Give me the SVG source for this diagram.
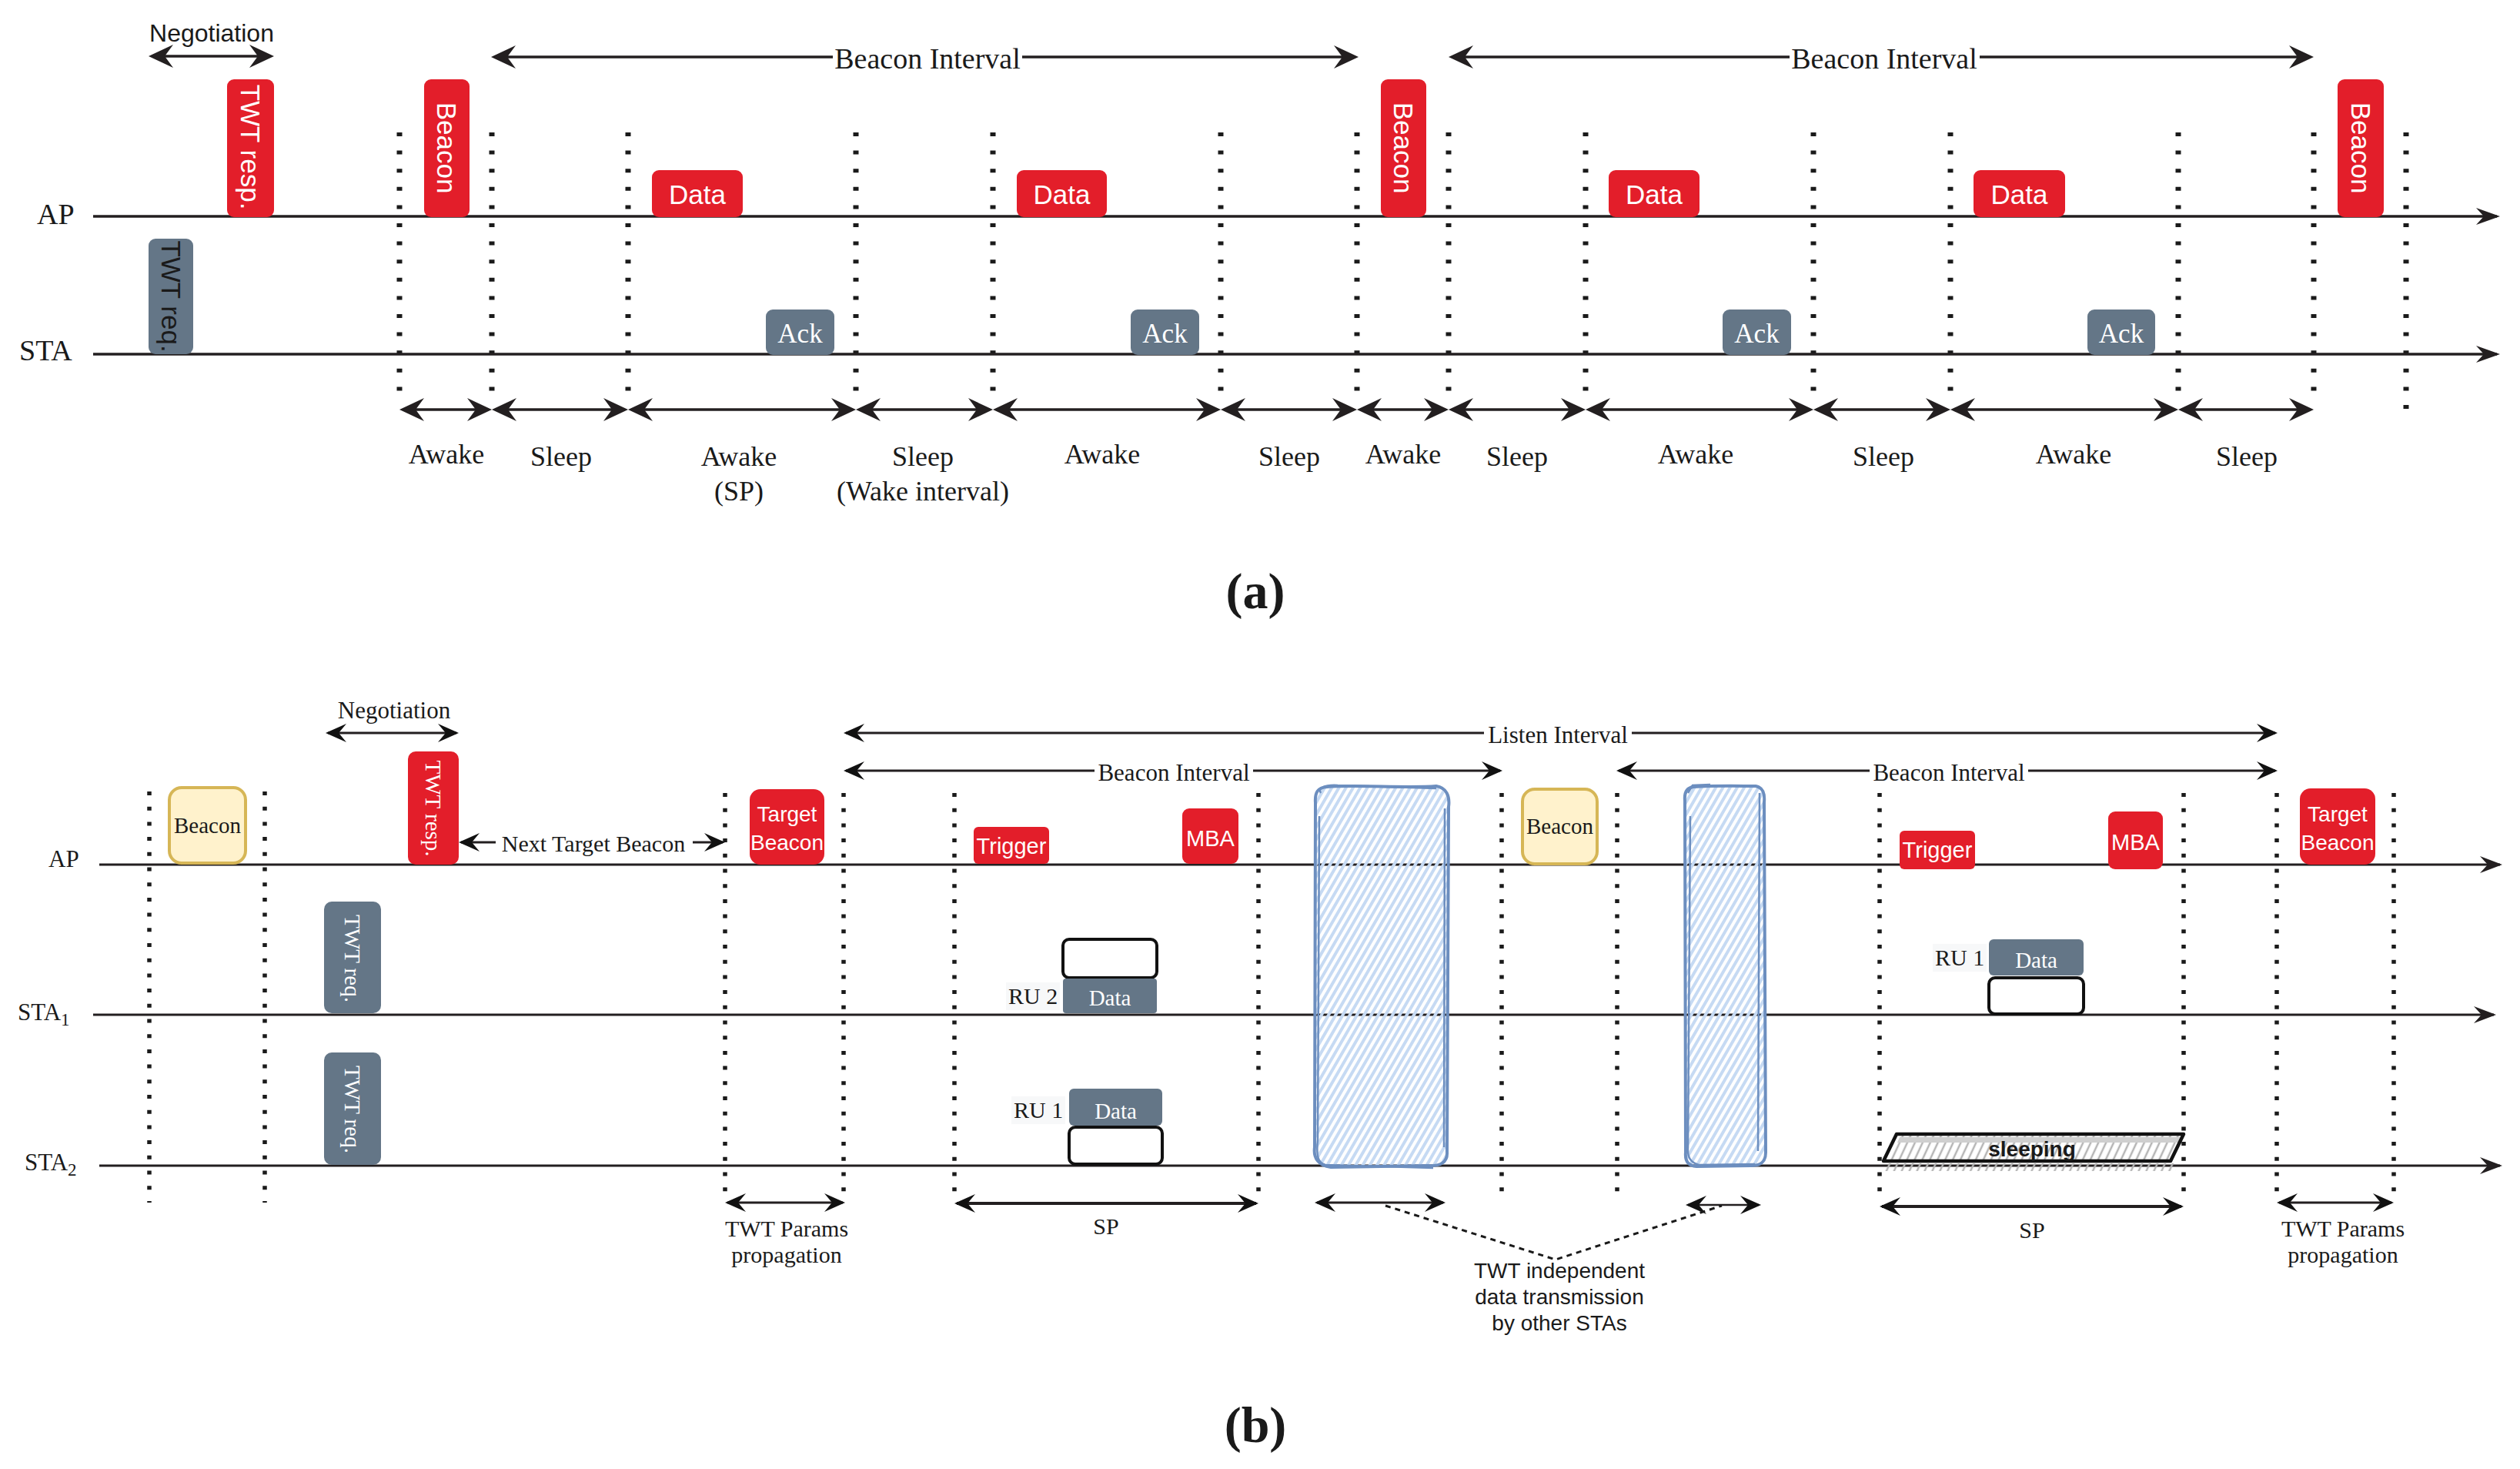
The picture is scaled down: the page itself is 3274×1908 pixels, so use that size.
<svg xmlns="http://www.w3.org/2000/svg" width="3274" height="1908" viewBox="0 0 3274 1908">
<style>
.s{font-family:'Liberation Serif','Times New Roman',serif}
.a{font-family:'Liberation Sans',Arial,sans-serif}
.k{fill:#1a1a1a}
.w{fill:#ffffff}
.red{fill:#e31e2a}
.gray{fill:#647687}
.ylw{fill:#fff2cc;stroke:#d6b656;stroke-width:4}
.blank{fill:#ffffff;stroke:#111;stroke-width:4}
.ln{stroke:#231f20;fill:none}
.dota{stroke:#1a1a1a;stroke-width:7;stroke-dasharray:5 18.6;fill:none}
.dotb{stroke:#1a1a1a;stroke-width:5.5;stroke-dasharray:5 14.7;fill:none}
.mid{text-anchor:middle}
</style>
<defs>
<marker id="ha" viewBox="-34 -17 35 34" refX="-4" refY="0" markerWidth="35" markerHeight="34" markerUnits="userSpaceOnUse" orient="auto-start-reverse" overflow="visible"><path d="M0,0 L-32,-15 L-21,0 L-32,15 Z" fill="#231f20"/></marker>
<marker id="axa" viewBox="-33 -12 34 24" refX="-4" refY="0" markerWidth="34" markerHeight="24" markerUnits="userSpaceOnUse" orient="auto" overflow="visible"><path d="M0,0 L-31,-11 L-21,0 L-31,11 Z" fill="#231f20"/></marker>
<marker id="hb" viewBox="-28 -13 29 26" refX="-3" refY="0" markerWidth="29" markerHeight="26" markerUnits="userSpaceOnUse" orient="auto-start-reverse" overflow="visible"><path d="M0,0 L-27,-12 L-17,0 L-27,12 Z" fill="#111"/></marker>
<marker id="axb" viewBox="-30 -12 31 24" refX="-3" refY="0" markerWidth="31" markerHeight="24" markerUnits="userSpaceOnUse" orient="auto" overflow="visible"><path d="M0,0 L-29,-11 L-19,0 L-29,11 Z" fill="#231f20"/></marker>
<pattern id="hatchBlue" patternUnits="userSpaceOnUse" width="8" height="8" patternTransform="rotate(30)"><line x1="2" y1="0" x2="2" y2="8" stroke="#c6daf3" stroke-width="4"/></pattern>
<pattern id="hatchGray" patternUnits="userSpaceOnUse" width="9" height="9" patternTransform="rotate(25)"><line x1="2" y1="0" x2="2" y2="9" stroke="#b5b5b5" stroke-width="2.5"/></pattern>
</defs>

<!-- ================= (a) ================= -->
<g id="a-grid">
<line class="dota" x1="519" y1="172" x2="519" y2="512"/>
<line class="dota" x1="639" y1="172" x2="639" y2="512"/>
<line class="dota" x1="816" y1="172" x2="816" y2="512"/>
<line class="dota" x1="1112" y1="172" x2="1112" y2="512"/>
<line class="dota" x1="1290" y1="172" x2="1290" y2="512"/>
<line class="dota" x1="1586" y1="172" x2="1586" y2="512"/>
<line class="dota" x1="1763" y1="172" x2="1763" y2="512"/>
<line class="dota" x1="1882" y1="172" x2="1882" y2="512"/>
<line class="dota" x1="2060" y1="172" x2="2060" y2="512"/>
<line class="dota" x1="2356" y1="172" x2="2356" y2="512"/>
<line class="dota" x1="2534" y1="172" x2="2534" y2="512"/>
<line class="dota" x1="2830" y1="172" x2="2830" y2="512"/>
<line class="dota" x1="3006" y1="172" x2="3006" y2="512"/>
<line class="dota" x1="3126" y1="172" x2="3126" y2="535"/>
</g>
<g id="a-axes">
<line class="ln" x1="121" y1="281" x2="3244" y2="281" stroke-width="3.5" marker-end="url(#axa)"/>
<line class="ln" x1="121" y1="460" x2="3244" y2="460" stroke-width="3.5" marker-end="url(#axa)"/>
<text class="s k" x="48" y="291" font-size="38">AP</text>
<text class="s k" x="25" y="468" font-size="38">STA</text>
</g>
<g id="a-twt-resp"><rect class="red" x="295" y="103" width="61" height="179" rx="9"/><text class="a w mid" font-size="35" dominant-baseline="central" transform="translate(325.5,191) rotate(90)">TWT resp.</text></g>
<g id="a-twt-req"><rect class="gray" x="193" y="310" width="58" height="150" rx="9"/><text class="a k mid" font-size="35" dominant-baseline="central" transform="translate(222,385) rotate(90)">TWT req.</text></g>
<g id="a-beacon1"><rect class="red" x="551" y="103" width="59" height="179" rx="9"/><text class="a w mid" font-size="35" dominant-baseline="central" transform="translate(580.5,192) rotate(90)">Beacon</text></g>
<g id="a-beacon2"><rect class="red" x="1794" y="103" width="59" height="179" rx="9"/><text class="a w mid" font-size="35" dominant-baseline="central" transform="translate(1823.5,192) rotate(90)">Beacon</text></g>
<g id="a-beacon3"><rect class="red" x="3037" y="103" width="60" height="179" rx="9"/><text class="a w mid" font-size="35" dominant-baseline="central" transform="translate(3067,192) rotate(90)">Beacon</text></g>
<g id="a-data1"><rect class="red" x="847" y="221" width="118" height="61" rx="9"/><text class="a w mid" x="906" y="265" font-size="35">Data</text></g>
<g id="a-data2"><rect class="red" x="1321" y="221" width="117" height="61" rx="9"/><text class="a w mid" x="1379.5" y="265" font-size="35">Data</text></g>
<g id="a-data3"><rect class="red" x="2090" y="221" width="118" height="61" rx="9"/><text class="a w mid" x="2149" y="265" font-size="35">Data</text></g>
<g id="a-data4"><rect class="red" x="2564" y="221" width="119" height="61" rx="9"/><text class="a w mid" x="2623.5" y="265" font-size="35">Data</text></g>
<g id="a-ack1"><rect class="gray" x="995" y="402" width="89" height="59" rx="9"/><text class="s w mid" x="1039.5" y="445" font-size="35">Ack</text></g>
<g id="a-ack2"><rect class="gray" x="1469" y="402" width="89" height="59" rx="9"/><text class="s w mid" x="1513.5" y="445" font-size="35">Ack</text></g>
<g id="a-ack3"><rect class="gray" x="2238" y="402" width="89" height="59" rx="9"/><text class="s w mid" x="2282.5" y="445" font-size="35">Ack</text></g>
<g id="a-ack4"><rect class="gray" x="2712" y="402" width="88" height="59" rx="9"/><text class="s w mid" x="2756" y="445" font-size="35">Ack</text></g>

<g id="a-connectors">
<line class="ln" x1="197" y1="73" x2="352" y2="73" stroke-width="3.5" marker-start="url(#ha)" marker-end="url(#ha)"/>
<line class="ln" x1="642" y1="74" x2="1761" y2="74" stroke-width="3.5" marker-start="url(#ha)" marker-end="url(#ha)"/>
<line class="ln" x1="1886" y1="74" x2="3002" y2="74" stroke-width="3.5" marker-start="url(#ha)" marker-end="url(#ha)"/>
<line class="ln" x1="523" y1="532" x2="635" y2="532" stroke-width="3.5" marker-start="url(#ha)" marker-end="url(#ha)"/>
<line class="ln" x1="643" y1="532" x2="812" y2="532" stroke-width="3.5" marker-start="url(#ha)" marker-end="url(#ha)"/>
<line class="ln" x1="820" y1="532" x2="1108" y2="532" stroke-width="3.5" marker-start="url(#ha)" marker-end="url(#ha)"/>
<line class="ln" x1="1116" y1="532" x2="1286" y2="532" stroke-width="3.5" marker-start="url(#ha)" marker-end="url(#ha)"/>
<line class="ln" x1="1294" y1="532" x2="1582" y2="532" stroke-width="3.5" marker-start="url(#ha)" marker-end="url(#ha)"/>
<line class="ln" x1="1590" y1="532" x2="1759" y2="532" stroke-width="3.5" marker-start="url(#ha)" marker-end="url(#ha)"/>
<line class="ln" x1="1767" y1="532" x2="1878" y2="532" stroke-width="3.5" marker-start="url(#ha)" marker-end="url(#ha)"/>
<line class="ln" x1="1886" y1="532" x2="2056" y2="532" stroke-width="3.5" marker-start="url(#ha)" marker-end="url(#ha)"/>
<line class="ln" x1="2064" y1="532" x2="2352" y2="532" stroke-width="3.5" marker-start="url(#ha)" marker-end="url(#ha)"/>
<line class="ln" x1="2360" y1="532" x2="2530" y2="532" stroke-width="3.5" marker-start="url(#ha)" marker-end="url(#ha)"/>
<line class="ln" x1="2538" y1="532" x2="2826" y2="532" stroke-width="3.5" marker-start="url(#ha)" marker-end="url(#ha)"/>
<line class="ln" x1="2834" y1="532" x2="3002" y2="532" stroke-width="3.5" marker-start="url(#ha)" marker-end="url(#ha)"/>
<rect x="1082" y="58" width="246" height="36" fill="#fff"/>
<rect x="2325" y="58" width="247" height="36" fill="#fff"/>
</g>
<g id="a-labels">
<text class="a k mid" x="275" y="54" font-size="32">Negotiation</text>
<text class="s k mid" x="1205" y="89" font-size="38">Beacon Interval</text>
<text class="s k mid" x="2448" y="89" font-size="38">Beacon Interval</text>
<text class="s k mid" x="580" y="602" font-size="36">Awake</text>
<text class="s k mid" x="729" y="605" font-size="36">Sleep</text>
<text class="s k mid" x="960" y="605" font-size="36">Awake</text>
<text class="s k mid" x="960" y="650" font-size="36">(SP)</text>
<text class="s k mid" x="1199" y="605" font-size="36">Sleep</text>
<text class="s k mid" x="1199" y="650" font-size="36">(Wake interval)</text>
<text class="s k mid" x="1432" y="602" font-size="36">Awake</text>
<text class="s k mid" x="1675" y="605" font-size="36">Sleep</text>
<text class="s k mid" x="1823" y="602" font-size="36">Awake</text>
<text class="s k mid" x="1971" y="605" font-size="36">Sleep</text>
<text class="s k mid" x="2203" y="602" font-size="36">Awake</text>
<text class="s k mid" x="2447" y="605" font-size="36">Sleep</text>
<text class="s k mid" x="2694" y="602" font-size="36">Awake</text>
<text class="s k mid" x="2919" y="605" font-size="36">Sleep</text>
<text class="s k mid" x="1631" y="790" font-size="66" font-weight="bold">(a)</text>
</g>

<!-- ================= (b) ================= -->
<g id="b-grid">
<line class="dotb" x1="194" y1="1028" x2="194" y2="1562"/>
<line class="dotb" x1="344" y1="1028" x2="344" y2="1562"/>
<line class="dotb" x1="942" y1="1030" x2="942" y2="1562"/>
<line class="dotb" x1="1096" y1="1030" x2="1096" y2="1562"/>
<line class="dotb" x1="1240" y1="1030" x2="1240" y2="1562"/>
<line class="dotb" x1="1635" y1="1030" x2="1635" y2="1562"/>
<line class="dotb" x1="1951" y1="1030" x2="1951" y2="1562"/>
<line class="dotb" x1="2101" y1="1030" x2="2101" y2="1562"/>
<line class="dotb" x1="2442" y1="1030" x2="2442" y2="1562"/>
<line class="dotb" x1="2837" y1="1030" x2="2837" y2="1562"/>
<line class="dotb" x1="2958" y1="1030" x2="2958" y2="1562"/>
<line class="dotb" x1="3110" y1="1030" x2="3110" y2="1562"/>
</g>
<g id="b-axes">
<line class="ln" x1="129" y1="1123" x2="3248" y2="1123" stroke-width="3" marker-end="url(#axb)"/>
<line class="ln" x1="121" y1="1318" x2="3240" y2="1318" stroke-width="3" marker-end="url(#axb)"/>
<line class="ln" x1="129" y1="1514" x2="3248" y2="1514" stroke-width="3" marker-end="url(#axb)"/>
<text class="s k" x="63" y="1126" font-size="31">AP</text>
<text class="s k" x="23" y="1325" font-size="31">STA<tspan font-size="23" dy="7">1</tspan></text>
<text class="s k" x="32" y="1520" font-size="31">STA<tspan font-size="23" dy="7">2</tspan></text>
</g>
<g id="b-beacon1"><rect class="ylw" x="220" y="1023" width="99" height="98" rx="16"/><text class="s k mid" x="269.5" y="1082" font-size="29">Beacon</text></g>
<g id="b-twt-resp"><rect class="red" x="530" y="976" width="66" height="147" rx="10"/><text class="s w mid" font-size="29" dominant-baseline="central" transform="translate(563,1050) rotate(90)">TWT resp.</text></g>
<g id="b-twt-req1"><rect class="gray" x="421" y="1171" width="74" height="145" rx="10"/><text class="s w mid" font-size="29" dominant-baseline="central" transform="translate(458,1245) rotate(90)">TWT req.</text></g>
<g id="b-twt-req2"><rect class="gray" x="421" y="1367" width="74" height="146" rx="10"/><text class="s w mid" font-size="29" dominant-baseline="central" transform="translate(458,1441) rotate(90)">TWT req.</text></g>
<g id="b-target-beacon1"><rect class="red" x="974" y="1025" width="97" height="98" rx="14"/><text class="a w mid" x="1022.5" y="1067" font-size="28">Target</text><text class="a w mid" x="1022.5" y="1104" font-size="28">Beacon</text></g>
<g id="b-trigger1"><rect class="red" x="1265" y="1074" width="98" height="48" rx="6"/><text class="a w mid" x="1314" y="1109" font-size="29">Trigger</text></g>
<g id="b-mba1"><rect class="red" x="1536" y="1050" width="73" height="72" rx="9"/><text class="a w mid" x="1572.5" y="1099" font-size="29">MBA</text></g>
<g id="b-sta1-blank1"><rect class="blank" x="1381" y="1220" width="122" height="50" rx="8"/></g>
<g id="b-sta1-data1"><rect class="gray" x="1381" y="1271" width="122" height="45" rx="4"/><text class="s w mid" x="1442" y="1306" font-size="29">Data</text></g>
<g id="b-ru2"><rect x="1307" y="1276" width="70" height="36" fill="#f7f8f9"/><text class="s k" x="1310" y="1304" font-size="30">RU 2</text></g>
<g id="b-sta2-data1"><rect class="gray" x="1389" y="1414" width="121" height="48" rx="6"/><text class="s w mid" x="1449.5" y="1453" font-size="29">Data</text></g>
<g id="b-ru1a"><rect x="1314" y="1424" width="70" height="36" fill="#f7f8f9"/><text class="s k" x="1317" y="1452" font-size="30">RU 1</text></g>
<g id="b-sta2-blank1"><rect class="blank" x="1389" y="1464" width="121" height="48" rx="8"/></g>
<g id="b-beacon2"><rect class="ylw" x="1978" y="1025" width="97" height="97" rx="16"/><text class="s k mid" x="2026.5" y="1083" font-size="29">Beacon</text></g>
<g id="b-trigger2"><rect class="red" x="2468" y="1079" width="98" height="50" rx="6"/><text class="a w mid" x="2517" y="1114" font-size="29">Trigger</text></g>
<g id="b-mba2"><rect class="red" x="2739" y="1054" width="71" height="75" rx="9"/><text class="a w mid" x="2774.5" y="1104" font-size="29">MBA</text></g>
<g id="b-ru1b"><rect x="2511" y="1226" width="70" height="36" fill="#f7f8f9"/><text class="s k" x="2514" y="1254" font-size="30">RU 1</text></g>
<g id="b-sta1-data2"><rect class="gray" x="2584" y="1220" width="123" height="47" rx="6"/><text class="s w mid" x="2645.5" y="1257" font-size="29">Data</text></g>
<g id="b-sta1-blank2"><rect class="blank" x="2584" y="1270" width="123" height="47" rx="8"/></g>
<g id="b-target-beacon2"><rect class="red" x="2988" y="1024" width="98" height="99" rx="14"/><text class="a w mid" x="3037" y="1067" font-size="28">Target</text><text class="a w mid" x="3037" y="1104" font-size="28">Beacon</text></g>
<g id="b-sleeping">
<polygon points="2452,1511 2830,1511 2826,1521 2448,1521" fill="url(#hatchGray)"/>
<polygon points="2464,1473 2837,1473 2820,1508 2447,1508" fill="url(#hatchGray)"/>
<polygon points="2468,1477 2833,1477 2830,1484 2465,1484" fill="#cfcfcf"/>
<polygon points="2464,1473 2837,1473 2820,1508 2447,1508" fill="none" stroke="#111" stroke-width="4.5" stroke-linejoin="round"/>
<text class="a k mid" x="2640" y="1502" font-size="28" font-weight="bold">sleeping</text>
</g>
<g id="b-other1">
<rect x="1709" y="1022" width="172" height="492" rx="20" fill="url(#hatchBlue)"/>
<path d="M1724,1022 C1760,1019 1830,1024 1866,1021 C1879,1023 1884,1034 1882,1048 L1880,1496 C1881,1510 1871,1515 1855,1514 L1729,1516 C1713,1514 1706,1504 1708,1490 L1709,1043 C1708,1029 1712,1023 1724,1022 Z" stroke="#6c8ebf" stroke-width="4" fill="none"/>
<path d="M1716,1030 C1712,1024 1720,1019 1738,1020 L1866,1024 M1877,1050 L1876,1490 M1862,1517 L1722,1513 C1712,1510 1710,1502 1712,1480 L1714,1060" stroke="#6c8ebf" stroke-width="2.5" fill="none"/>
</g>
<g id="b-other2">
<rect x="2189" y="1021" width="103" height="493" rx="14" fill="url(#hatchBlue)"/>
<path d="M2200,1022 C2230,1020 2262,1021 2281,1021 C2291,1023 2293,1031 2292,1042 L2294,1497 C2294,1510 2287,1514 2275,1514 L2204,1515 C2193,1514 2189,1508 2190,1497 L2189,1040 C2188,1029 2192,1023 2200,1022 Z" stroke="#6c8ebf" stroke-width="4" fill="none"/>
<path d="M2193,1030 L2199,1020 L2222,1019 M2286,1030 L2284,1495 M2280,1512 L2207,1513 C2197,1510 2192,1504 2193,1490 L2196,1060" stroke="#6c8ebf" stroke-width="2.5" fill="none"/>
</g>

<g id="b-connectors">
<line class="ln" x1="426" y1="952" x2="593" y2="952" stroke-width="3" marker-start="url(#hb)" marker-end="url(#hb)"/>
<line class="ln" x1="599" y1="1094" x2="939" y2="1094" stroke-width="3" marker-start="url(#hb)" marker-end="url(#hb)"/>
<line class="ln" x1="1099" y1="952" x2="2956" y2="952" stroke-width="3" marker-start="url(#hb)" marker-end="url(#hb)"/>
<line class="ln" x1="1099" y1="1001" x2="1949" y2="1001" stroke-width="3" marker-start="url(#hb)" marker-end="url(#hb)"/>
<line class="ln" x1="2103" y1="1001" x2="2956" y2="1001" stroke-width="3" marker-start="url(#hb)" marker-end="url(#hb)"/>
<line class="ln" x1="945" y1="1562" x2="1095" y2="1562" stroke-width="3" marker-start="url(#hb)" marker-end="url(#hb)"/>
<line class="ln" x1="1243" y1="1563" x2="1632" y2="1563" stroke-width="4" marker-start="url(#hb)" marker-end="url(#hb)"/>
<line class="ln" x1="1711" y1="1562" x2="1875" y2="1562" stroke-width="3" marker-start="url(#hb)" marker-end="url(#hb)"/>
<line class="ln" x1="2193" y1="1565" x2="2285" y2="1565" stroke-width="2.5" marker-start="url(#hb)" marker-end="url(#hb)"/>
<line class="ln" x1="2445" y1="1567" x2="2834" y2="1567" stroke-width="4" marker-start="url(#hb)" marker-end="url(#hb)"/>
<line class="ln" x1="2961" y1="1562" x2="3107" y2="1562" stroke-width="3" marker-start="url(#hb)" marker-end="url(#hb)"/>
<polyline points="1800,1566 2021,1636 2237,1566" fill="none" stroke="#1a1a1a" stroke-width="3" stroke-dasharray="7 6"/>
<rect x="644" y="1080" width="256" height="32" fill="#fff"/>
<rect x="1928" y="938" width="192" height="32" fill="#fff"/>
<rect x="1422" y="987" width="206" height="32" fill="#fff"/>
<rect x="2429" y="987" width="206" height="32" fill="#fff"/>
</g>
<g id="b-labels">
<text class="s k mid" x="512" y="933" font-size="31">Negotiation</text>
<text class="s k mid" x="771" y="1106" font-size="30">Next Target Beacon</text>
<text class="s k mid" x="2024" y="965" font-size="31">Listen Interval</text>
<text class="s k mid" x="1525" y="1014" font-size="31">Beacon Interval</text>
<text class="s k mid" x="2532" y="1014" font-size="31">Beacon Interval</text>
<text class="s k mid" x="1022" y="1606" font-size="30">TWT Params</text>
<text class="s k mid" x="1022" y="1640" font-size="30">propagation</text>
<text class="s k mid" x="1437" y="1603" font-size="30">SP</text>
<text class="s k mid" x="2640" y="1608" font-size="30">SP</text>
<text class="s k mid" x="3044" y="1606" font-size="30">TWT Params</text>
<text class="s k mid" x="3044" y="1640" font-size="30">propagation</text>
<text class="a k mid" x="2026" y="1660" font-size="28">TWT independent</text>
<text class="a k mid" x="2026" y="1694" font-size="28">data transmission</text>
<text class="a k mid" x="2026" y="1728" font-size="28">by other STAs</text>
<text class="s k mid" x="1631" y="1873" font-size="66" font-weight="bold">(b)</text>
</g>
</svg>
